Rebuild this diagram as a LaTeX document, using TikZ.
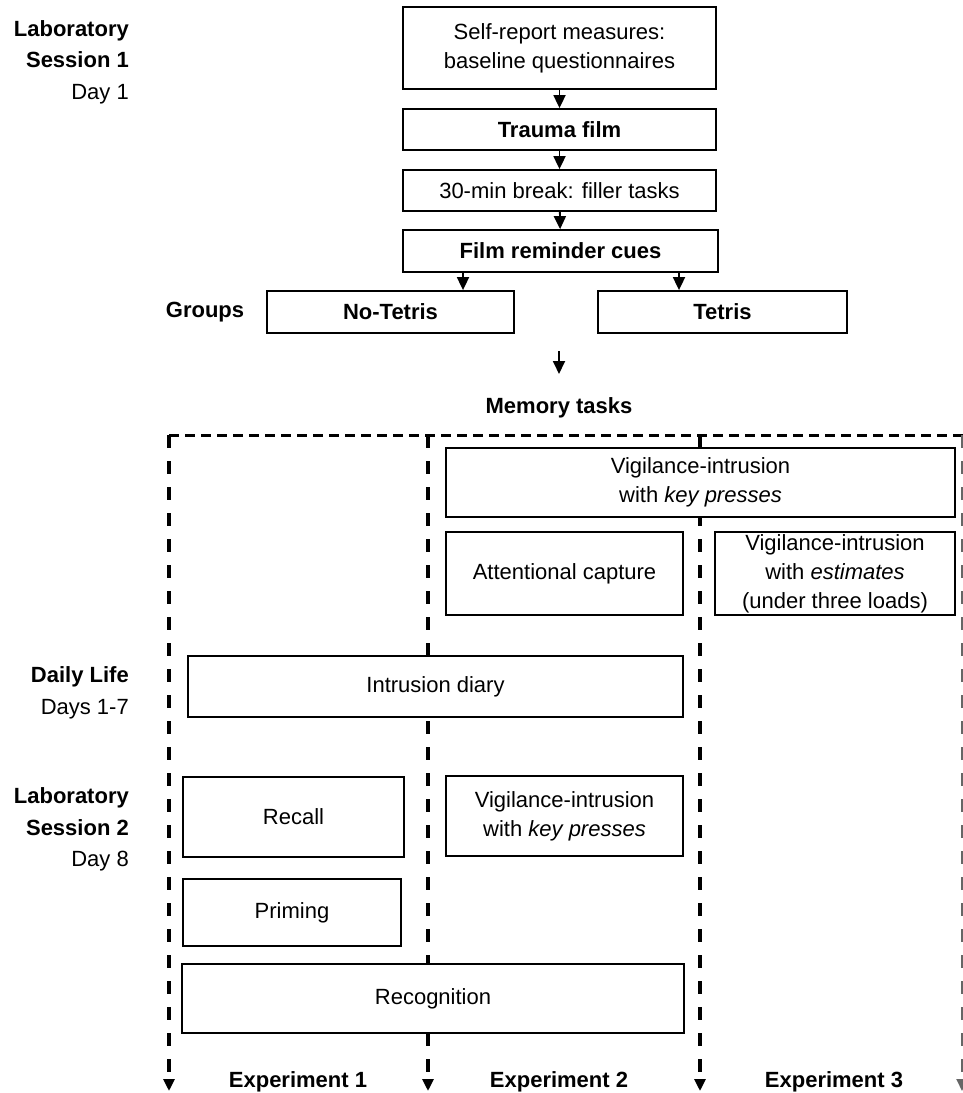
\documentclass[tikz,border=0pt]{standalone}
\usepackage{fontspec}
\setmainfont{Liberation Sans}
\usetikzlibrary{arrows.meta}
\begin{document}
\begin{tikzpicture}[x=1pt,y=-1pt,
  box/.style={draw, line width=1.8pt, fill=white, inner sep=0pt, align=center,
    font=\fontsize{22}{29}\selectfont},
  boldbox/.style={box, font=\fontsize{22}{29}\selectfont\bfseries},
  lab/.style={anchor=east, align=right, inner sep=0pt, font=\fontsize{22}{31.5}\selectfont},
  btxt/.style={inner sep=0pt, font=\fontsize{22}{29}\selectfont\bfseries},
  arr/.style={line width=1.8pt, -{Triangle[length=13pt,width=12pt]}},
  dashv/.style={line width=3.5pt, dash pattern=on 13pt off 13pt, -{Triangle[length=12pt,width=11pt]}},
  dashh/.style={line width=3pt, dash pattern=on 10pt off 6pt},
]
\useasboundingbox (0,0) rectangle (962,1093);

% ---- dashed framework (drawn first, boxes are filled white over it)
\coordinate (tl) at (169,435);
\coordinate (tr) at (965,435);
\coordinate (m1) at (428,435);
\coordinate (m2) at (700,435);
\coordinate (m3) at (962,435);
\coordinate (e1) at (169,1091);
\coordinate (e2) at (428,1091);
\coordinate (e3) at (700,1091);
\coordinate (e4) at (962,1091);
\draw[dashh] (tl) -- (tr);
\draw[dashv] (tl) -- (e1);
\draw[dashv] (m1) -- (e2);
\draw[dashv] (m2) -- (e3);
\draw[dashv, line width=2pt, black!60] (m3) -- (e4);

% ---- top flow
\node[box, minimum width=313pt, minimum height=82pt] (b1) at (559.5,48)
  {Self-report measures:\\baseline questionnaires};
\node[boldbox, minimum width=313pt, minimum height=41pt] (b2) at (559.5,129.5) {Trauma film};
\node[box, minimum width=313pt, minimum height=41pt] (b3) at (559.5,190.5) {30-min break: filler tasks};
\node[boldbox, minimum width=315pt, minimum height=42pt] (b4) at (560.5,251) {Film reminder cues};
\node[boldbox, minimum width=247pt, minimum height=42pt] (nt) at (390.5,312) {No-Tetris};
\node[boldbox, minimum width=249pt, minimum height=42pt] (te) at (722.5,312) {Tetris};

\draw[arr] (b1) -- (b2);
\draw[arr] (b2) -- (b3);
\draw[arr] (b3) -- (b4);
\draw[arr] ([xshift=-97.5pt]b4.south) -- ([xshift=-97.5pt]b4.south |- nt.north);
\draw[arr] ([xshift=118.5pt]b4.south) -- ([xshift=118.5pt]b4.south |- te.north);

\coordinate (g1) at (559,351);
\coordinate (g2) at (559,374);
\draw[arr] (g1) -- (g2);
\node[btxt] (mem) at (559,408) {Memory tasks};

% ---- left labels
\node[lab] (lab1) at (129,62) {\textbf{Laboratory}\\\textbf{Session 1}\\Day 1};
\node[btxt] (grp) at (205,312) {Groups};
\node[lab] (lab2) at (129,693) {\textbf{Daily Life}\\Days 1-7};
\node[lab] (lab3) at (129,829.5) {\textbf{Laboratory}\\\textbf{Session 2}\\Day 8};

% ---- memory-task boxes
\node[box, minimum width=509pt, minimum height=69pt] (vk1) at (700.5,482.5)
  {Vigilance-intrusion\\with \textit{key presses}};
\node[box, minimum width=237pt, minimum height=83pt] (att) at (564.5,573.5) {Attentional capture};
\node[box, minimum width=240pt, minimum height=83pt] (est) at (835,573.5)
  {Vigilance-intrusion\\with \textit{estimates}\\(under three loads)};
\node[box, minimum width=495pt, minimum height=61pt] (dia) at (435.5,686.5) {Intrusion diary};
\node[box, minimum width=221pt, minimum height=80pt] (rec) at (293.5,817) {Recall};
\node[box, minimum width=237pt, minimum height=80pt] (vk2) at (564.5,816)
  {Vigilance-intrusion\\with \textit{key presses}};
\node[box, minimum width=218pt, minimum height=67pt] (pri) at (292,912.5) {Priming};
\node[box, minimum width=502pt, minimum height=69pt] (rcg) at (433,998.5) {Recognition};

% ---- experiment labels
\node[btxt] (x1) at (298,1082) {Experiment 1};
\node[btxt] (x2) at (559,1082) {Experiment 2};
\node[btxt] (x3) at (834,1082) {Experiment 3};
\end{tikzpicture}
\end{document}
